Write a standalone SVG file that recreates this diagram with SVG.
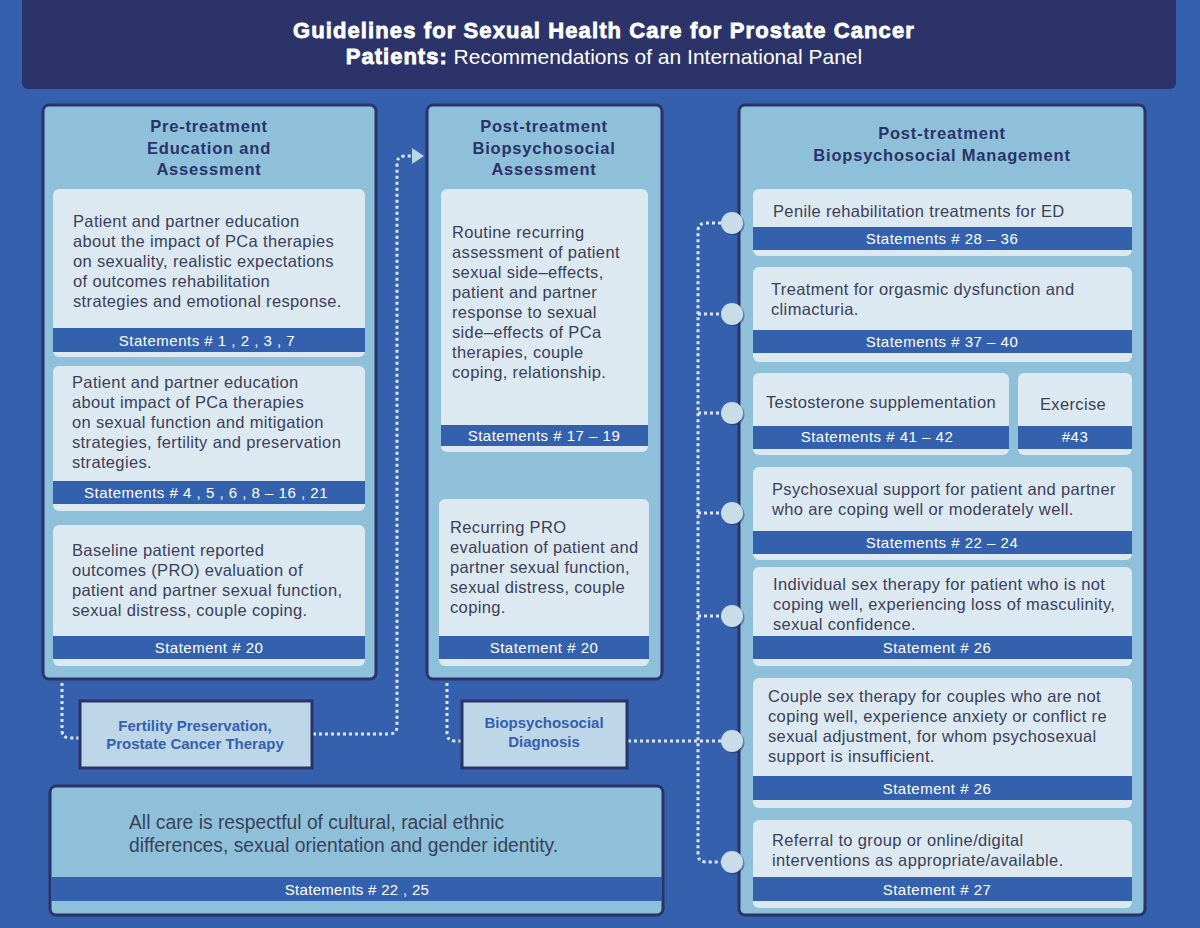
<svg xmlns="http://www.w3.org/2000/svg" width="1200" height="928" viewBox="0 0 1200 928">
<defs>
<style>
.panel{fill:#8ec0da;stroke:#2b3368;stroke-width:3}
.card{fill:#dde9f1}
.bar{fill:#3461ae}
.ptitle{font-family:"Liberation Sans",Arial,sans-serif;font-size:16.5px;font-weight:bold;fill:#2b3368;letter-spacing:0.8px;text-anchor:middle}
.body{font-family:"Liberation Sans",Arial,sans-serif;font-size:16.5px;fill:#3b4058;letter-spacing:0.35px}
.big{font-family:"Liberation Sans",Arial,sans-serif;font-size:19.3px;fill:#3b4058}
.stmt{font-family:"Liberation Sans",Arial,sans-serif;font-size:15px;fill:#ffffff;letter-spacing:0.5px;text-anchor:middle}
.tag{fill:#bed7e8;stroke:#2b3368;stroke-width:3}
.tagtxt{font-family:"Liberation Sans",Arial,sans-serif;font-size:15px;font-weight:bold;fill:#3461ae;text-anchor:middle}
.dot{fill:none;stroke:#dbe8f3;stroke-width:3;stroke-dasharray:3 3}
.knob{fill:#c9dde9}
.knobsh{fill:#24336e;opacity:0.45}
</style>
</defs>
<rect x="0" y="0" width="1200" height="928" fill="#3560ae"/>

<g id="header">
<rect x="22" y="-10" width="1154" height="99" rx="6" fill="#2b3368"/>
<text x="604" y="38" text-anchor="middle" font-family="'Liberation Sans',Arial,sans-serif" font-size="22" font-weight="bold" fill="#ffffff" stroke="#ffffff" stroke-width="0.8" letter-spacing="1.1">Guidelines for Sexual Health Care for Prostate Cancer</text>
<text x="604" y="64" text-anchor="middle" font-family="'Liberation Sans',Arial,sans-serif" font-size="21" fill="#ffffff"><tspan font-weight="bold" font-size="22" letter-spacing="1" stroke="#ffffff" stroke-width="0.8">Patients:</tspan> Recommendations of an International Panel</text>
</g>

<g id="connectors">
<path class="dot" d="M62,683 V730 Q62,738 70,738 H80"/>
<path class="dot" d="M313,734 H389 Q397,734 397,726 V164 Q397,156 405,156 H412"/>
<polygon points="412,148 424,156 412,164" fill="#b9d5e7"/>
<path class="dot" d="M447,683 V733 Q447,741 455,741 H462"/>
<path class="dot" d="M628,741 H721"/>
<path class="dot" d="M721,223 H706 Q698,223 698,231 V854 Q698,862 706,862 H721"/>
<path class="dot" d="M698,314 H721"/>
<path class="dot" d="M698,413 H721"/>
<path class="dot" d="M698,513 H721"/>
<path class="dot" d="M698,616 H721"/>
</g>

<g id="pre-treatment">
<rect class="panel" x="43" y="105" width="333" height="574" rx="6"/>
<text class="ptitle" x="209" y="132">Pre-treatment</text>
<text class="ptitle" x="209" y="154">Education and</text>
<text class="ptitle" x="209" y="175">Assessment</text>
</g>

<g id="pre-education-1">
<rect class="card" x="53" y="189" width="312" height="168" rx="6"/>
<rect class="bar" x="53" y="328" width="312" height="24"/>
<text class="body" x="73" y="227">Patient and partner education</text>
<text class="body" x="73" y="247">about the impact of PCa therapies</text>
<text class="body" x="73" y="267">on sexuality, realistic expectations</text>
<text class="body" x="73" y="287">of outcomes rehabilitation</text>
<text class="body" x="73" y="307">strategies and emotional response.</text>
<text class="stmt" x="207" y="346">Statements # 1 , 2 , 3 , 7</text>
</g>

<g id="pre-education-2">
<rect class="card" x="53" y="366" width="312" height="145" rx="6"/>
<rect class="bar" x="53" y="481" width="312" height="23"/>
<text class="body" x="72" y="388">Patient and partner education</text>
<text class="body" x="72" y="408">about impact of PCa therapies</text>
<text class="body" x="72" y="428">on sexual function and mitigation</text>
<text class="body" x="72" y="448">strategies, fertility and preservation</text>
<text class="body" x="72" y="468">strategies.</text>
<text class="stmt" x="206" y="498">Statements # 4 , 5 , 6 , 8 – 16 , 21</text>
</g>

<g id="pre-baseline">
<rect class="card" x="53" y="525" width="312" height="141" rx="6"/>
<rect class="bar" x="53" y="636" width="312" height="23"/>
<text class="body" x="72" y="556">Baseline patient reported</text>
<text class="body" x="72" y="576">outcomes (PRO) evaluation of</text>
<text class="body" x="72" y="596">patient and partner sexual function,</text>
<text class="body" x="72" y="616">sexual distress, couple coping.</text>
<text class="stmt" x="209" y="653">Statement # 20</text>
</g>

<g id="post-assessment">
<rect class="panel" x="427" y="105" width="235" height="574" rx="6"/>
<text class="ptitle" x="544" y="132">Post-treatment</text>
<text class="ptitle" x="544" y="154">Biopsychosocial</text>
<text class="ptitle" x="544" y="175">Assessment</text>
</g>

<g id="post-routine">
<rect class="card" x="441" y="189" width="207" height="263" rx="6"/>
<rect class="bar" x="441" y="425" width="207" height="21"/>
<text class="body" x="452" y="238">Routine recurring</text>
<text class="body" x="452" y="258">assessment of patient</text>
<text class="body" x="452" y="278">sexual side–effects,</text>
<text class="body" x="452" y="298">patient and partner</text>
<text class="body" x="452" y="318">response to sexual</text>
<text class="body" x="452" y="338">side–effects of PCa</text>
<text class="body" x="452" y="358">therapies, couple</text>
<text class="body" x="452" y="378">coping, relationship.</text>
<text class="stmt" x="544" y="441">Statements # 17 – 19</text>
</g>

<g id="post-pro">
<rect class="card" x="439" y="499" width="210" height="167" rx="6"/>
<rect class="bar" x="439" y="636" width="210" height="23"/>
<text class="body" x="450" y="533">Recurring PRO</text>
<text class="body" x="450" y="553">evaluation of patient and</text>
<text class="body" x="450" y="573">partner sexual function,</text>
<text class="body" x="450" y="593">sexual distress, couple</text>
<text class="body" x="450" y="613">coping.</text>
<text class="stmt" x="544" y="653">Statement # 20</text>
</g>

<g id="fertility">
<rect class="tag" x="80" y="701" width="232" height="67"/>
<text class="tagtxt" x="195" y="731">Fertility Preservation,</text>
<text class="tagtxt" x="195" y="749">Prostate Cancer Therapy</text>
</g>

<g id="diagnosis">
<rect class="tag" x="462" y="701" width="165" height="67"/>
<text class="tagtxt" x="544" y="728">Biopsychosocial</text>
<text class="tagtxt" x="544" y="747">Diagnosis</text>
</g>

<g id="respect">
<rect class="panel" x="50" y="786" width="613" height="129" rx="6"/>
<rect class="bar" x="51" y="877" width="611" height="24"/>
<text class="big" x="129" y="829">All care is respectful of cultural, racial ethnic</text>
<text class="big" x="129" y="852">differences, sexual orientation and gender identity.</text>
<text class="stmt" x="357" y="895" style="letter-spacing:0.3px">Statements # 22 , 25</text>
</g>

<g id="post-management">
<rect class="panel" x="739" y="105" width="406" height="810" rx="6"/>
<text class="ptitle" x="942" y="139">Post-treatment</text>
<text class="ptitle" x="942" y="161">Biopsychosocial Management</text>
</g>

<g id="penile">
<rect class="card" x="753" y="189" width="379" height="67" rx="6"/>
<rect class="bar" x="753" y="227" width="379" height="23"/>
<text class="body" x="773" y="217">Penile rehabilitation treatments for ED</text>
<text class="stmt" x="942" y="244">Statements # 28 – 36</text>
</g>

<g id="orgasmic">
<rect class="card" x="753" y="267" width="379" height="95" rx="6"/>
<rect class="bar" x="753" y="330" width="379" height="23"/>
<text class="body" x="771" y="295">Treatment for orgasmic dysfunction and</text>
<text class="body" x="771" y="315">climacturia.</text>
<text class="stmt" x="942" y="347">Statements # 37 – 40</text>
</g>

<g id="testosterone">
<rect class="card" x="753" y="373" width="256" height="82" rx="6"/>
<rect class="bar" x="753" y="426" width="256" height="23"/>
<text class="body" x="766" y="408">Testosterone supplementation</text>
<text class="stmt" x="877" y="442">Statements # 41 – 42</text>
</g>

<g id="exercise">
<rect class="card" x="1018" y="373" width="114" height="82" rx="6"/>
<rect class="bar" x="1018" y="426" width="114" height="23"/>
<text class="body" x="1073" y="410" text-anchor="middle">Exercise</text>
<text class="stmt" x="1075" y="442">#43</text>
</g>

<g id="psychosexual">
<rect class="card" x="753" y="467" width="379" height="93" rx="6"/>
<rect class="bar" x="753" y="531" width="379" height="23"/>
<text class="body" x="772" y="495">Psychosexual support for patient and partner</text>
<text class="body" x="772" y="515">who are coping well or moderately well.</text>
<text class="stmt" x="942" y="548">Statements # 22 – 24</text>
</g>

<g id="individual">
<rect class="card" x="753" y="567" width="379" height="99" rx="6"/>
<rect class="bar" x="753" y="636" width="379" height="23"/>
<text class="body" x="773" y="590">Individual sex therapy for patient who is not</text>
<text class="body" x="773" y="610">coping well, experiencing loss of masculinity,</text>
<text class="body" x="773" y="630">sexual confidence.</text>
<text class="stmt" x="937" y="653">Statement # 26</text>
</g>

<g id="couple">
<rect class="card" x="753" y="678" width="379" height="130" rx="6"/>
<rect class="bar" x="753" y="776" width="379" height="24"/>
<text class="body" x="768" y="702">Couple sex therapy for couples who are not</text>
<text class="body" x="768" y="722">coping well, experience anxiety or conflict re</text>
<text class="body" x="768" y="742">sexual adjustment, for whom psychosexual</text>
<text class="body" x="768" y="762">support is insufficient.</text>
<text class="stmt" x="937" y="794">Statement # 26</text>
</g>

<g id="referral">
<rect class="card" x="753" y="820" width="379" height="88" rx="6"/>
<rect class="bar" x="753" y="877" width="379" height="24"/>
<text class="body" x="772" y="846">Referral to group or online/digital</text>
<text class="body" x="772" y="866">interventions as appropriate/available.</text>
<text class="stmt" x="937" y="895">Statement # 27</text>
</g>

<g id="knobs">
<circle class="knobsh" cx="733.5" cy="224.5" r="11"/><circle class="knob" cx="732" cy="223" r="11"/>
<circle class="knobsh" cx="733.5" cy="315.5" r="11"/><circle class="knob" cx="732" cy="314" r="11"/>
<circle class="knobsh" cx="733.5" cy="414.5" r="11"/><circle class="knob" cx="732" cy="413" r="11"/>
<circle class="knobsh" cx="733.5" cy="514.5" r="11"/><circle class="knob" cx="732" cy="513" r="11"/>
<circle class="knobsh" cx="733.5" cy="617.5" r="11"/><circle class="knob" cx="732" cy="616" r="11"/>
<circle class="knobsh" cx="733.5" cy="742.5" r="11"/><circle class="knob" cx="732" cy="741" r="11"/>
<circle class="knobsh" cx="733.5" cy="863.5" r="11"/><circle class="knob" cx="732" cy="862" r="11"/>
</g>
</svg>
